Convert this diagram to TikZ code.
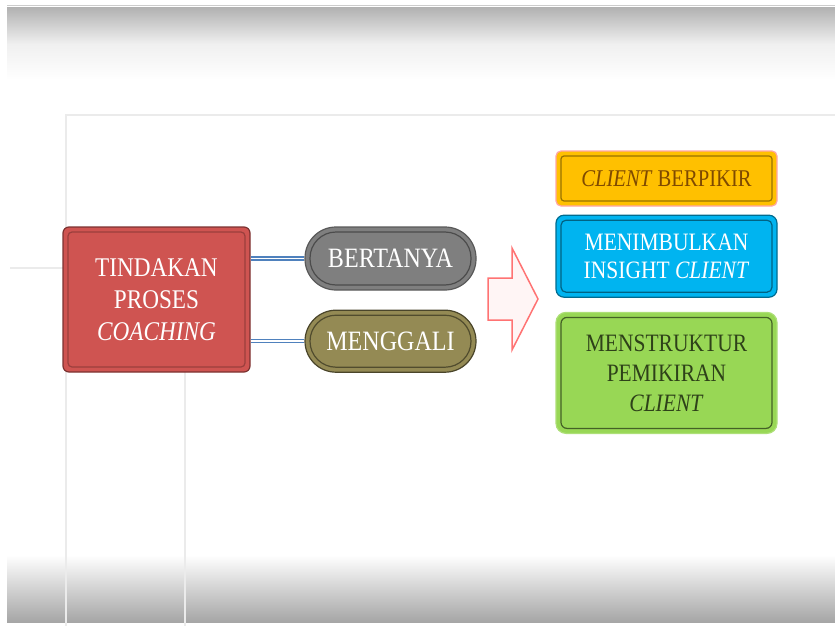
\documentclass[tikz,border=0pt]{standalone}
\usepackage{fontspec}
\setmainfont{Liberation Serif}[FakeStretch=0.86]
\usetikzlibrary{positioning}
\definecolor{tred}{HTML}{CF5451}
\definecolor{tgray}{HTML}{7F7F7F}
\definecolor{tolive}{HTML}{948A54}
\definecolor{torange}{HTML}{FFC000}
\definecolor{tblue}{HTML}{00B4F0}
\definecolor{tgreen}{HTML}{98D755}
\definecolor{linkblue}{HTML}{4F81BD}
\definecolor{tbrown}{HTML}{7F4A00}

\begin{document}
\begin{tikzpicture}[x=1pt, y=-1pt, node distance=8pt,
  box/.style={draw, line width=1.2pt, align=center, inner sep=0pt},
  bevel/.style 2 args={path picture={\draw[#1, line width=1.2pt, rounded corners=#2]
      ([xshift=5pt,yshift=-5pt]path picture bounding box.north west) rectangle
      ([xshift=-5pt,yshift=5pt]path picture bounding box.south east);}},
  link/.style={draw=linkblue, double=white, line width=1.5pt, double distance=1.5pt}]
\useasboundingbox (0,0) rectangle (835,626);
% background
\shade[top color=black!30, bottom color=white, middle color=black!6] (7,8) rectangle (835,80);
\shade[top color=white, middle color=black!6, bottom color=black!35] (7,555) rectangle (835,622);
\draw[black!20] (7,5) -- (835,5);
\draw[black!8, line width=1.2pt] (835,115) -- (66,115) -- (66,626);
\draw[black!8, line width=1.2pt] (10,268) -- (66,268);
\draw[black!8, line width=1.2pt] (185,372) -- (185,626);

% left part
\node (T) [box, fill=tred, draw=tred!60!black, rounded corners=6pt, bevel={tred!75!black}{4pt},
  minimum width=187pt, minimum height=145pt, text=white,
  font=\fontsize{27}{32}\selectfont] at (156.5,299.5) {TINDAKAN\\PROSES\\\textit{COACHING}};
\node (B) [box, fill=tgray, draw=tgray!70!black, rounded corners=31pt, bevel={tgray!60!black}{26pt},
  minimum width=171pt, minimum height=63pt, text=white,
  font=\fontsize{28}{30}\selectfont] at (390.5,258.5) {BERTANYA};
\node (M) [box, fill=tolive, draw=tolive!50!black, rounded corners=31pt, bevel={tolive!55!black}{26pt},
  minimum width=171pt, minimum height=62pt, text=white,
  font=\fontsize{28}{30}\selectfont, below=19pt of B] {MENGGALI};
\draw[link] (T.east |- B.west) -- (B.west);
\draw[link] (T.east |- M.west) -- (M.west);

% arrow
\draw[fill=red!4, draw=red!55!white, line width=1.5pt]
  (488,278) -- (512,278) -- (512,248) -- (538,299) -- (512,350) -- (512,320) -- (488,320) -- cycle;

% right column
\node (P) [box, fill=torange, draw=red!35!white, rounded corners=5pt, bevel={torange!60!black}{3pt},
  minimum width=221pt, minimum height=55pt, text=tbrown,
  font=\fontsize{24}{26}\selectfont] at (666.5,178.5) {\textit{CLIENT} BERPIKIR};
\node (I) [box, fill=tblue, draw=tblue!60!black, rounded corners=8pt, bevel={tblue!55!black}{5pt},
  minimum width=221pt, minimum height=82pt, text=white,
  font=\fontsize{25}{28}\selectfont, below=8pt of P] {MENIMBULKAN\\INSIGHT \textit{CLIENT}};
\node (S) [box, fill=tgreen, draw=tgreen!80!white, rounded corners=10pt, bevel={tgreen!45!black}{6pt},
  minimum width=221pt, minimum height=121pt, text=tgreen!30!black,
  font=\fontsize{25}{30}\selectfont, below=14pt of I] {MENSTRUKTUR\\PEMIKIRAN\\\textit{CLIENT}};
\end{tikzpicture}
\end{document}
